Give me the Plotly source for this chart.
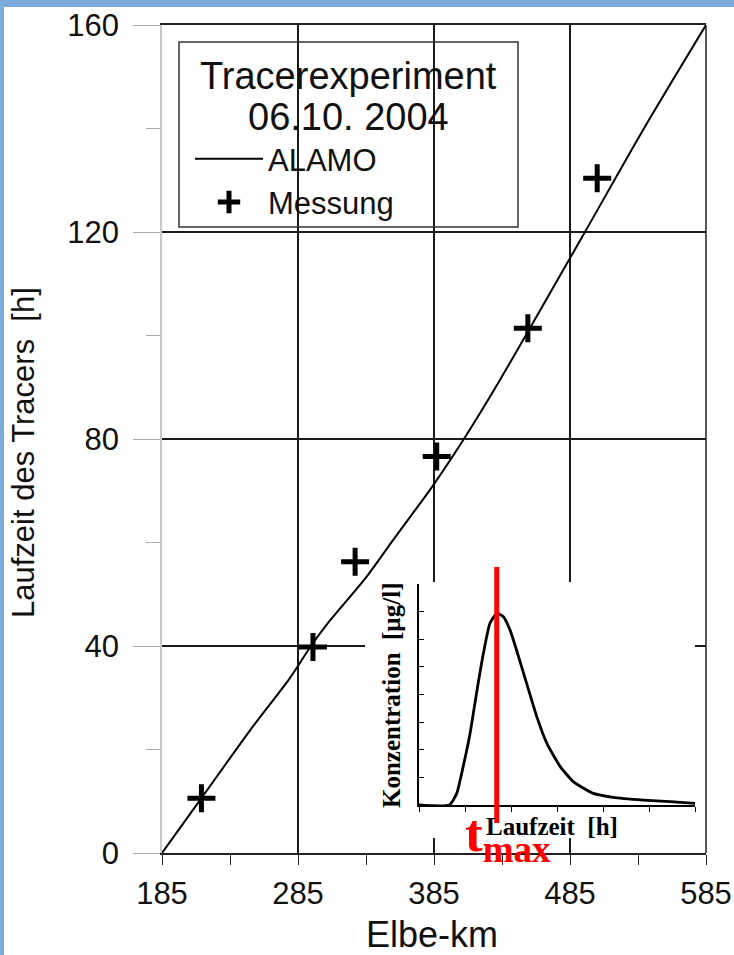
import plotly.graph_objects as go

# ---------------- data ----------------
# ALAMO model curve (Elbe-km vs travel time in h)
alamo_km = [185, 214, 250, 279, 295, 306, 335.5, 355, 384.5, 406.5, 433.5, 496, 540, 585]
alamo_h = [0, 10.6, 23.8, 33.8, 40.2, 44.1, 53.4, 60.5, 71.1, 79.8, 91.4, 120, 140.3, 160]

# Measurements (Messung)
mess_km = [214, 296, 327, 387, 454, 505]
mess_h = [10.6, 39.8, 56.3, 76.6, 101.4, 130.4]

# Inset: concentration curve (arbitrary units)
inset_t = [0, 0.66, 0.82, 0.96, 1.11, 1.25, 1.40, 1.54, 1.69, 1.83, 1.98, 2.12,
           2.34, 2.56, 2.78, 3.07, 3.36, 3.79, 4.22, 4.88, 5.46, 6.0]
inset_c = [0, 0, 0.42, 1.39, 2.59, 4.04, 5.49, 6.57, 6.94, 6.82, 6.33, 5.61,
           4.40, 3.20, 2.23, 1.39, 0.84, 0.42, 0.28, 0.18, 0.12, 0.06]

x_ticks = [185, 285, 385, 485, 585]
y_ticks = [0, 40, 80, 120, 160]

# ---------------- layout helpers ----------------
W, H = 734, 955
ML, MR, MT, MB = 162, 28, 25, 102
PW, PH = W - ML - MR, H - MT - MB


def px_x(p):
    return (p - ML) / PW


def px_y(p):
    return (H - MB - p) / PH


t_max = inset_t[inset_c.index(max(inset_c))]

SANS = "Liberation Sans, Arial, sans-serif"
SERIF = "Liberation Serif, Times New Roman, serif"

fig = go.Figure()

fig.add_trace(go.Scatter(
    x=alamo_km, y=alamo_h, mode="lines", name="ALAMO",
    line=dict(color="black", width=2, shape="spline", smoothing=0.8),
    xaxis="x", yaxis="y"))
fig.add_trace(go.Scatter(
    x=mess_km, y=mess_h, mode="markers", name="Messung",
    marker=dict(symbol="cross-thin", size=20,
                line=dict(color="black", width=5)),
    xaxis="x", yaxis="y"))

# white backdrop for inset (empty subplot)
fig.add_trace(go.Scatter(x=[], y=[], xaxis="x2", yaxis="y2",
                         showlegend=False, hoverinfo="skip"))

# inset curve
fig.add_trace(go.Scatter(
    x=inset_t, y=inset_c, mode="lines", showlegend=False,
    line=dict(color="black", width=2.8, shape="spline", smoothing=0.5),
    xaxis="x3", yaxis="y3"))

fig.update_layout(
    width=W, height=H,
    margin=dict(l=ML, r=MR, t=MT, b=MB, autoexpand=False),
    paper_bgcolor="white", plot_bgcolor="white",
    font=dict(family=SANS, color="#111"),
    showlegend=True,
    legend=dict(x=px_x(190), y=px_y(132), xanchor="left", yanchor="top",
                bgcolor="rgba(0,0,0,0)", borderwidth=0,
                font=dict(family=SANS, size=31, color="#111"),
                itemwidth=68),
    xaxis=dict(
        range=[185, 585], tickvals=x_ticks, ticktext=[str(v) for v in x_ticks],
        ticks="outside", ticklen=10, tickcolor="#222", tickwidth=1.3,
        tickfont=dict(size=31, family=SANS, color="#111"),
        ticklabelstandoff=2,
        showgrid=True, gridcolor="#1a1a1a", gridwidth=1.5,
        showline=True, linecolor="#222", linewidth=1.5, mirror=True,
        zeroline=False,
        minor=dict(dtick=50, tick0=185, ticks="outside", ticklen=10,
                   tickcolor="#222", showgrid=False),
        domain=[0, 1], anchor="y"),
    yaxis=dict(
        range=[0, 160], tickvals=y_ticks, ticktext=[str(v) for v in y_ticks],
        ticks="outside", ticklen=27, tickcolor="#aaa", tickwidth=1.2,
        tickfont=dict(size=31, family=SANS, color="#111"),
        ticklabelstandoff=8,
        showgrid=True, gridcolor="#1a1a1a", gridwidth=1.5,
        showline=True, linecolor="#c8c8c8", linewidth=1.5, mirror=False,
        zeroline=False,
        minor=dict(dtick=20, tick0=0, ticks="outside", ticklen=14,
                   tickcolor="#aaa", showgrid=False),
        domain=[0, 1], anchor="x"),
    xaxis2=dict(domain=[px_x(365), px_x(695)], anchor="y2", visible=False,
                range=[0, 1], fixedrange=True),
    yaxis2=dict(domain=[px_y(838), px_y(582)], anchor="x2", visible=False,
                range=[0, 1], fixedrange=True),
    xaxis3=dict(domain=[px_x(419), px_x(695)], anchor="y3", range=[0, 6],
                dtick=1, tick0=0, ticks="outside", ticklen=5, tickcolor="black",
                showticklabels=False, showgrid=False, zeroline=False,
                showline=True, linecolor="black", linewidth=2),
    yaxis3=dict(domain=[px_y(805), px_y(584)], anchor="x3", range=[0, 8],
                dtick=1, tick0=0, ticks="inside", ticklen=5, tickcolor="black",
                showticklabels=False, showgrid=False, zeroline=False,
                showline=True, linecolor="black", linewidth=2),
)

shapes = [
    # blue frame strips
    dict(type="rect", xref="paper", yref="paper", x0=px_x(0), x1=px_x(4),
         y0=px_y(H), y1=px_y(0), fillcolor="#79acdb", line_width=0, layer="above"),
    dict(type="rect", xref="paper", yref="paper", x0=px_x(0), x1=px_x(W),
         y0=px_y(7), y1=px_y(0), fillcolor="#79acdb", line_width=0, layer="above"),
    # right frame line
    dict(type="line", xref="paper", yref="paper", x0=1, x1=1, y0=0, y1=1,
         line=dict(color="#222", width=1.5), layer="above"),
    # legend box
    dict(type="rect", xref="paper", yref="paper", x0=px_x(179), x1=px_x(518),
         y0=px_y(227), y1=px_y(42), line=dict(color="#333", width=1.5),
         fillcolor="rgba(0,0,0,0)", layer="above"),
    # red t_max line
    dict(type="line", xref="x3", yref="paper", x0=t_max, x1=t_max,
         y0=px_y(823), y1=px_y(567), line=dict(color="#ff0000", width=5),
         layer="above"),
]
fig.update_layout(shapes=shapes)

annotations = [
    dict(text="Tracerexperiment", xref="paper", yref="paper",
         x=px_x(348), y=px_y(76), xanchor="center", yanchor="middle",
         showarrow=False, font=dict(family=SANS, size=38, color="#111")),
    dict(text="06.10. 2004", xref="paper", yref="paper",
         x=px_x(348), y=px_y(117), xanchor="center", yanchor="middle",
         showarrow=False, font=dict(family=SANS, size=38, color="#111")),
    dict(text="Laufzeit des Tracers \u00a0[h]", xref="paper", yref="paper",
         x=px_x(23), y=px_y(453), xanchor="center", yanchor="middle",
         textangle=-90, showarrow=False,
         font=dict(family=SANS, size=31, color="#111")),
    dict(text="Elbe-km", xref="paper", yref="paper",
         x=px_x(432), y=px_y(934), xanchor="center", yanchor="middle",
         showarrow=False, borderpad=0,
         font=dict(family=SANS, size=36, color="#111")),
    dict(text="<b>Konzentration \u00a0[µg/l]</b>", xref="paper", yref="paper",
         x=px_x(391), y=px_y(695), xanchor="center", yanchor="middle",
         textangle=-90, showarrow=False,
         font=dict(family=SERIF, size=25, color="black")),
    dict(text="<b>Laufzeit \u00a0[h]</b>", xref="paper", yref="paper",
         x=px_x(552), y=px_y(826), xanchor="center", yanchor="middle",
         showarrow=False, font=dict(family=SERIF, size=25, color="black")),
    dict(text="<b>t<sub>max</sub></b>", xref="x3", yref="paper",
         x=t_max, xshift=-34, y=px_y(802), xanchor="left", yanchor="top",
         showarrow=False, font=dict(family=SERIF, size=53, color="#ff0000")),
]
fig.update_layout(annotations=annotations)

fig.write_html("out.html",
               config={"displayModeBar": False},
               post_script="document.body.style.margin='0';"
                           "document.body.style.padding='0';")
